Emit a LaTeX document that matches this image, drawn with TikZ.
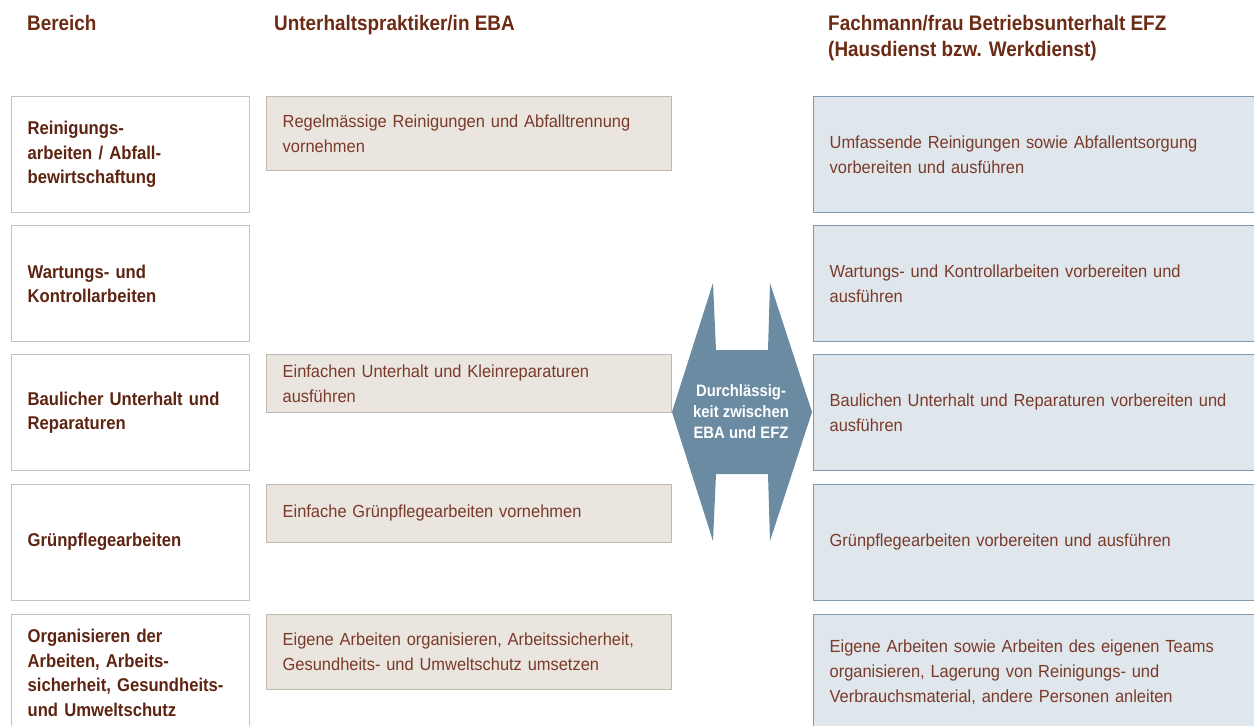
\documentclass[tikz,border=0pt]{standalone}
\usepackage{fontspec}
\setmainfont[FakeStretch=0.94]{Liberation Sans}
\newfontfamily\bfcond[FakeStretch=0.9]{Liberation Sans Bold}
\definecolor{hdrc}{HTML}{6B2B14}
\definecolor{leftc}{HTML}{5E2412}
\definecolor{bodyc}{HTML}{7A3A2A}
\definecolor{midfill}{HTML}{EAE6DF}
\definecolor{middraw}{HTML}{BFB9B1}
\definecolor{rfill}{HTML}{E0E7EC}
\definecolor{rdraw}{HTML}{7E9AB3}
\definecolor{ldraw}{HTML}{C3C3C3}
\definecolor{arrc}{HTML}{6B8BA3}
\tikzset{
  hdr/.style={anchor=base west, inner sep=0pt, text=hdrc, font=\bfcond\fontsize{21}{26}\selectfont},
  lbox/.style={draw=ldraw, line width=1.3pt, fill=white, anchor=north west, minimum width=238pt, minimum height=116pt, text width=206pt, inner xsep=16pt, align=left, text=leftc, font=\bfcond\fontsize{18.5}{24.5}\selectfont},
  mbox/.style={draw=middraw, line width=1.3pt, fill=midfill, anchor=north west, minimum width=405pt, text width=373pt, inner xsep=16pt, align=left, text=bodyc, font=\fontsize{17.5}{25}\selectfont},
  rbox/.style={draw=rdraw, line width=1.3pt, fill=rfill, anchor=north west, minimum width=450pt, minimum height=116pt, text width=418pt, inner xsep=16pt, align=left, text=bodyc, font=\fontsize{17.5}{25}\selectfont},
}
\begin{document}
\begin{tikzpicture}[x=1pt,y=-1pt]
\clip (0,0) rectangle (1254,726);
\fill[white] (0,0) rectangle (1254,726);
% headers
\node[hdr] (h1) at (27,30.5) {Bereich};
\node[hdr] (h2) at (274,30.5) {Unterhaltspraktiker/in EBA};
\node[hdr] (h3) at (828,30.5) {Fachmann/frau Betriebsunterhalt EFZ};
\node[hdr] (h4) at (828,56.5) {(Hausdienst bzw. Werkdienst)};
% left column
\node[lbox] (l1) at (11,96) {Reinigungs-\\arbeiten / Abfall-\\bewirtschaftung};
\node[lbox] (l2) at (11,225) {Wartungs- und\\Kontrollarbeiten};
\node[lbox] (l3) at (11,354) {Baulicher Unterhalt und\\Reparaturen};
\node[lbox] (l4) at (11,483.5) {Grünpflegearbeiten};
\node[lbox] (l5) at (11,614) {Organisieren der\\Arbeiten, Arbeits-\\sicherheit, Gesundheits-\\und Umweltschutz};
% middle column
\node[mbox, minimum height=74pt] (m1) at (266,96) {Regelmässige Reinigungen und Abfalltrennung\\vornehmen};
\node[mbox, minimum height=58pt] (m3) at (266,354) {Einfachen Unterhalt und Kleinreparaturen\\ausführen};
\node[mbox, minimum height=58pt] (m4) at (266,483.5) {Einfache Grünpflegearbeiten vornehmen};
\node[mbox, minimum height=75pt] (m5) at (266,614) {Eigene Arbeiten organisieren, Arbeitssicherheit,\\Gesundheits- und Umweltschutz umsetzen};
% right column
\node[rbox] (r1) at (813,96) {Umfassende Reinigungen sowie Abfallentsorgung\\vorbereiten und ausführen};
\node[rbox] (r2) at (813,225) {Wartungs- und Kontrollarbeiten vorbereiten und\\ausführen};
\node[rbox] (r3) at (813,354) {Baulichen Unterhalt und Reparaturen vorbereiten und\\ausführen};
\node[rbox] (r4) at (813,483.5) {Grünpflegearbeiten vorbereiten und ausführen};
\node[rbox] (r5) at (813,614) {Eigene Arbeiten sowie Arbeiten des eigenen Teams\\organisieren, Lagerung von Reinigungs- und\\Verbrauchsmaterial, andere Personen anleiten};
% double arrow
\fill[arrc] (713,283) -- (716,350) -- (768,350) -- (770,283) -- (812,412)
  -- (770,541) -- (768,474) -- (716,474) -- (713,541) -- (672,412) -- cycle;
\node[align=center, text=white, inner sep=0pt, font=\bfcond\fontsize{16.5}{21}\selectfont] (dur) at (741,412) {Durchlässig-\\keit zwischen\\EBA und EFZ};
\end{tikzpicture}
\end{document}
